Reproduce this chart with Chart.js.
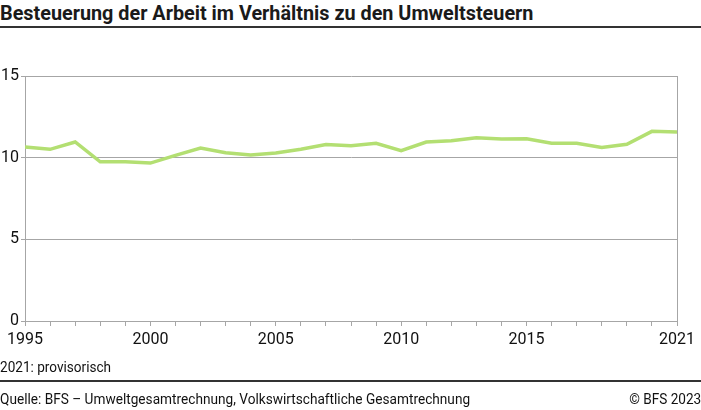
<!DOCTYPE html>
<html>
<head>
<meta charset="utf-8">
<script src="https://cdn.jsdelivr.net/npm/chart.js@4"></script>
<style>
  body { margin: 0; width: 701px; height: 410px; position: relative; background: #fff; font-family: Roboto, sans-serif; overflow: hidden; }
  #title { position: absolute; left: 0; top: 1px; font-weight: bold; font-size: 20px; color: #1a1a1a; white-space: nowrap; transform-origin: 0 0; transform: scaleX(0.99); }
  .rule { position: absolute; left: 0; width: 701px; height: 2px; background: #333; }
  #note { position: absolute; left: 0; top: 359px; font-size: 14px; color: #111; transform-origin: 0 0; transform: scaleX(0.97); white-space: nowrap; }
  #source { position: absolute; left: 0; top: 391px; font-size: 14px; color: #111; transform-origin: 0 0; transform: scaleX(0.975); white-space: nowrap; }
  #copy { position: absolute; right: 0; top: 391px; font-size: 14px; color: #111; transform-origin: 100% 0; transform: scaleX(0.97); white-space: nowrap; }
  #chart { position: absolute; left: 0; top: 0; }
</style>
</head>
<body>
<div id="title">Besteuerung der Arbeit im Verhältnis zu den Umweltsteuern</div>
<div class="rule" style="top:26px"></div>
<canvas id="chart" width="701" height="410"></canvas>
<div id="note">2021: provisorisch</div>
<div class="rule" style="top:380px"></div>
<div id="source">Quelle: BFS – Umweltgesamtrechnung, Volkswirtschaftliche Gesamtrechnung</div>
<div id="copy">© BFS 2023</div>
<script>
// Jahre und Verhältniswerte
const years = [1995, 1996, 1997, 1998, 1999, 2000, 2001, 2002, 2003, 2004, 2005, 2006, 2007, 2008,
  2009, 2010, 2011, 2012, 2013, 2014, 2015, 2016, 2017, 2018, 2019, 2020, 2021];
const ratio = [10.65, 10.51, 10.96, 9.75, 9.75, 9.67, 10.14, 10.59, 10.3, 10.16, 10.28, 10.51, 10.8, 10.73,
  10.88, 10.43, 10.96, 11.04, 11.22, 11.14, 11.16, 10.88, 10.88, 10.63, 10.82, 11.61, 11.57];
const xLabels = [1995, 2000, 2005, 2010, 2015, 2021];
const yTicks = [0, 5, 10, 15];

const gridGray = '#a6a6a6';

// rechter Rahmen der Zeichenfläche
const rightBorder = {
  id: 'rightBorder',
  afterDraw(chart) {
    const { ctx, chartArea } = chart;
    ctx.save();
    ctx.strokeStyle = gridGray;
    ctx.lineWidth = 1;
    ctx.beginPath();
    ctx.moveTo(chartArea.right + 0.5, chartArea.top);
    ctx.lineTo(chartArea.right + 0.5, chartArea.bottom);
    ctx.stroke();
    ctx.restore();
  }
};

new Chart(document.getElementById('chart'), {
  type: 'line',
  data: {
    datasets: [{
      data: years.map((y, i) => ({ x: y, y: ratio[i] })),
      borderColor: '#b3df72',
      borderWidth: 3.5,
      pointRadius: 0,
      tension: 0,
      fill: false
    }]
  },
  options: {
    responsive: false,
    animation: false,
    layout: { padding: { left: 0, right: 24, top: 76, bottom: 64 } },
    plugins: { legend: { display: false }, tooltip: { enabled: false } },
    scales: {
      x: {
        type: 'linear',
        min: 1995,
        max: 2021,
        afterBuildTicks(scale) { scale.ticks = years.map(v => ({ value: v })); },
        afterFit(scale) { scale.height = 25; },
        ticks: {
          autoSkip: false,
          maxRotation: 0,
          padding: 4,
          color: '#111',
          font: { family: 'Roboto', size: 16 },
          callback: v => xLabels.includes(v) ? String(v) : ''
        },
        grid: { drawOnChartArea: false, drawTicks: true, tickLength: 5, color: gridGray },
        border: { color: gridGray }
      },
      y: {
        min: 0,
        max: 15,
        afterBuildTicks(scale) { scale.ticks = yTicks.map(v => ({ value: v })); },
        afterFit(scale) { scale.width = 25; },
        ticks: {
          padding: 2,
          color: '#111',
          font: { family: 'Roboto', size: 16 }
        },
        grid: { color: gridGray, tickLength: 4 },
        border: { color: gridGray }
      }
    }
  },
  plugins: [rightBorder]
});
</script>
</body>
</html>
